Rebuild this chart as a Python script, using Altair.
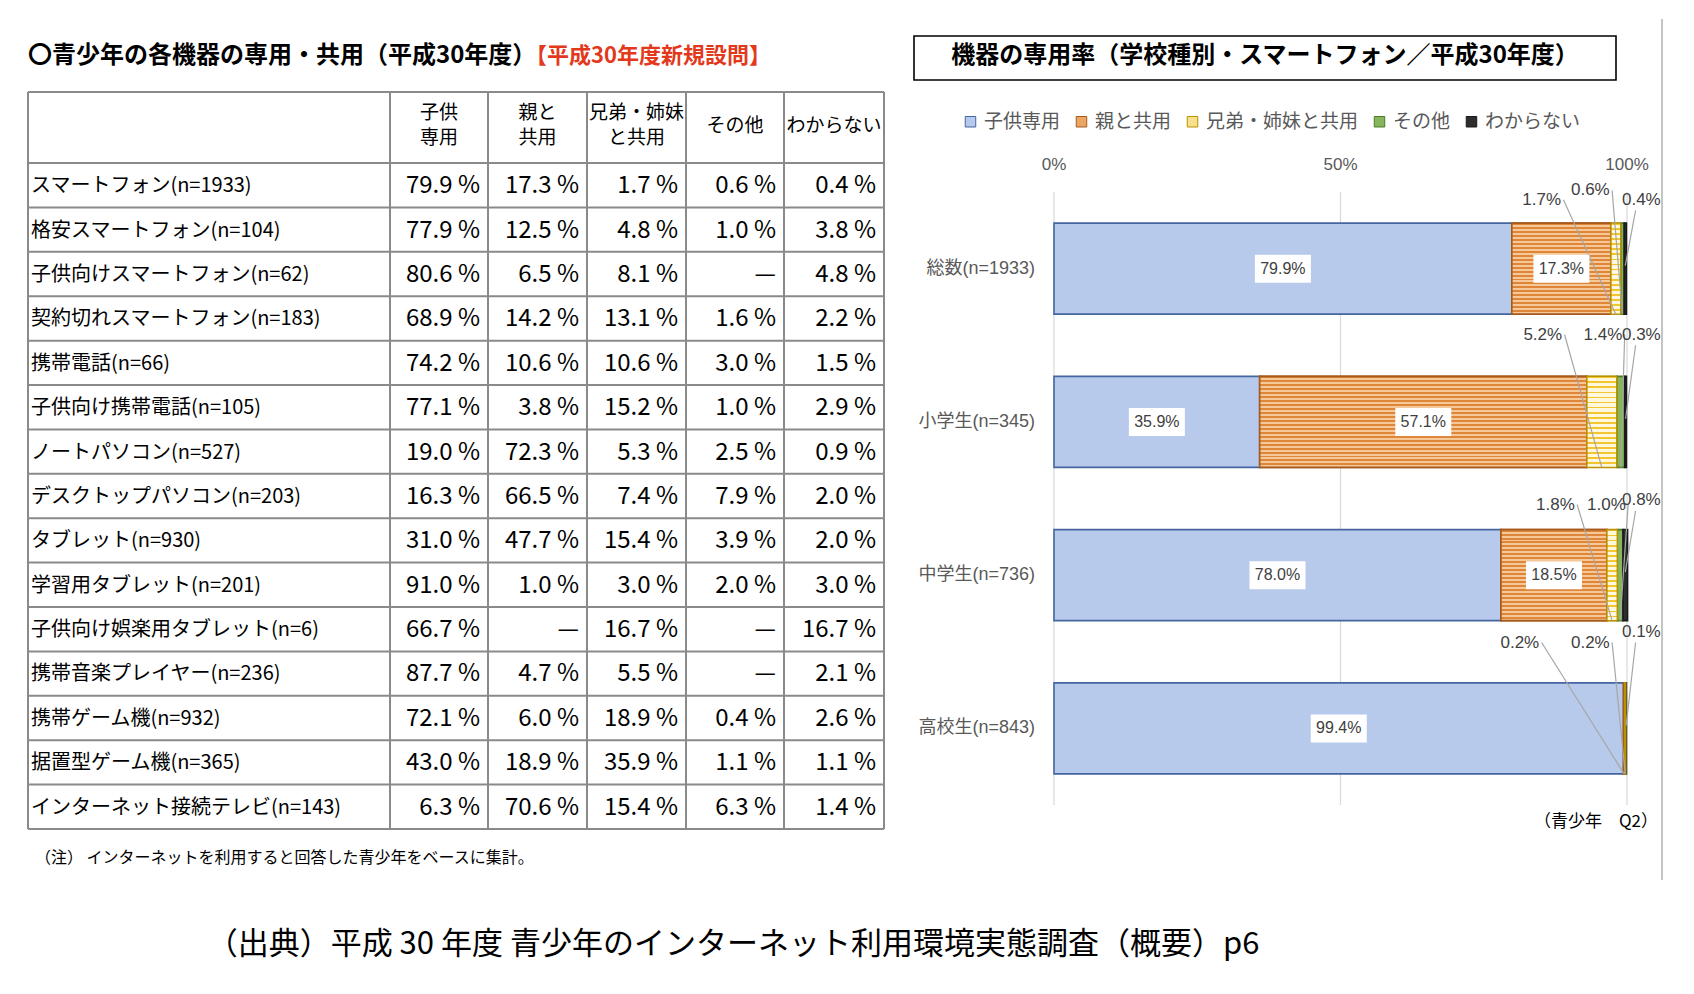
import altair as alt
import pandas as pd

# ---------------- data: left table ----------------
devices = [
    "スマートフォン(n=1933)", "格安スマートフォン(n=104)", "子供向けスマートフォン(n=62)",
    "契約切れスマートフォン(n=183)", "携帯電話(n=66)", "子供向け携帯電話(n=105)",
    "ノートパソコン(n=527)", "デスクトップパソコン(n=203)", "タブレット(n=930)",
    "学習用タブレット(n=201)", "子供向け娯楽用タブレット(n=6)", "携帯音楽プレイヤー(n=236)",
    "携帯ゲーム機(n=932)", "据置型ゲーム機(n=365)", "インターネット接続テレビ(n=143)",
]
tbl_child = [79.9, 77.9, 80.6, 68.9, 74.2, 77.1, 19.0, 16.3, 31.0, 91.0, 66.7, 87.7, 72.1, 43.0, 6.3]
tbl_parent = [17.3, 12.5, 6.5, 14.2, 10.6, 3.8, 72.3, 66.5, 47.7, 1.0, None, 4.7, 6.0, 18.9, 70.6]
tbl_sibling = [1.7, 4.8, 8.1, 13.1, 10.6, 15.2, 5.3, 7.4, 15.4, 3.0, 16.7, 5.5, 18.9, 35.9, 15.4]
tbl_other = [0.6, 1.0, None, 1.6, 3.0, 1.0, 2.5, 7.9, 3.9, 2.0, None, None, 0.4, 1.1, 6.3]
tbl_unknown = [0.4, 3.8, 4.8, 2.2, 1.5, 2.9, 0.9, 2.0, 2.0, 3.0, 16.7, 2.1, 2.6, 1.1, 1.4]
tbl_headers = ["子供\n専用", "親と\n共用", "兄弟・姉妹\nと共用", "その他", "わからない"]

# ---------------- data: right chart ----------------
categories = ["子供専用", "親と共用", "兄弟・姉妹と共用", "その他", "わからない"]
schools = ["総数(n=1933)", "小学生(n=345)", "中学生(n=736)", "高校生(n=843)"]
sp_child = [79.9, 35.9, 78.0, 99.4]
sp_parent = [17.3, 57.1, 18.5, 0.2]
sp_sibling = [1.7, 5.2, 1.8, 0.2]
sp_other = [0.6, 1.4, 1.0, 0.0]
sp_unknown = [0.4, 0.3, 0.8, 0.1]
axis_ticks = [0, 50, 100]
axis_tick_labels = ["0%", "50%", "100%"]

# ---------------- layout / style ----------------
FONT_JP = "Noto Sans CJK JP"
FONT_NUM = "Liberation Sans Narrow, Noto Sans CJK JP"
FONT_CHART = "Liberation Sans Narrow, Liberation Sans, Noto Sans CJK JP"
GRAY_TXT = "#595959"

col_edges = [0, 362, 460, 559, 658, 756, 856]
HEADER_H = 1.6
n_rows = len(devices)
tbl_total = HEADER_H + n_rows
tx = alt.Scale(domain=[0, 856], range=[20, 876], nice=False, zero=False)
ty = alt.Scale(domain=[0, tbl_total], range=[84, 821], nice=False, zero=False)

bx = alt.Scale(domain=[0, 100], range=[1046, 1619], nice=False, zero=False)
by = alt.Scale(domain=[-0.5, 3.5], range=[184, 797], nice=False, zero=False)
HALF_BAR = 0.297

fills = ["#b8caec", "#eba565", "#f8e08c", "#86b55c", "#2e2e2e"]
strokes = ["#44659f", "#a65a1c", "#b89200", "#4e7a2a", "#1a1a1a"]

# label slot layout for the small segments (x in %, y in row units)
small_slots = {
    0: [("兄弟・姉妹と共用", 85.1, -0.45), ("その他", 93.6, -0.51), ("わからない", 102.5, -0.45)],
    1: [("兄弟・姉妹と共用", 85.3, 0.43), ("その他", 95.8, 0.43), ("わからない", 102.5, 0.43)],
    2: [("兄弟・姉妹と共用", 87.5, 1.54), ("その他", 96.4, 1.54), ("わからない", 102.5, 1.51)],
    3: [("親と共用", 81.3, 2.44), ("兄弟・姉妹と共用", 93.6, 2.44), ("わからない", 102.5, 2.37)],
}

# ================= left table =================
v_lines = pd.DataFrame({"x": col_edges, "y0": 0.0, "y1": tbl_total})
h_pos = [0.0, HEADER_H] + [HEADER_H + r + 1 for r in range(n_rows)]
h_lines = pd.DataFrame({"y": h_pos, "x0": 0, "x1": col_edges[-1]})

tbl_cols = [tbl_child, tbl_parent, tbl_sibling, tbl_other, tbl_unknown]
cell_rows = []
for c, vals in enumerate(tbl_cols):
    for r, v in enumerate(vals):
        cell_rows.append({
            "x": col_edges[c + 2] - 8,
            "y": HEADER_H + r + 0.52,
            "t": "—" if v is None else f"{v:.1f} %",
        })
cells = pd.DataFrame(cell_rows)
row_labels = pd.DataFrame({"x": 3, "y": [HEADER_H + r + 0.52 for r in range(n_rows)], "t": devices})
headers = pd.DataFrame({
    "x": [(col_edges[i + 1] + col_edges[i + 2]) / 2 for i in range(5)],
    "y": [0.47 if "\n" in h else 0.77 for h in tbl_headers],
    "t": tbl_headers,
})

t_v = alt.Chart(v_lines).mark_rule(color="#8a8a8a", strokeWidth=2).encode(
    x=alt.X("x:Q", scale=tx, axis=None), y=alt.Y("y0:Q", scale=ty, axis=None), y2="y1:Q")
t_h = alt.Chart(h_lines).mark_rule(color="#8a8a8a", strokeWidth=2).encode(
    x=alt.X("x0:Q", scale=tx, axis=None), x2="x1:Q", y=alt.Y("y:Q", scale=ty, axis=None))
t_cells = alt.Chart(cells).mark_text(align="right", baseline="middle", font=FONT_NUM,
                                     fontSize=24, color="#000").encode(
    x=alt.X("x:Q", scale=tx, axis=None), y=alt.Y("y:Q", scale=ty, axis=None), text="t:N")
t_rows = alt.Chart(row_labels).mark_text(align="left", baseline="middle", font=FONT_NUM,
                                         fontSize=20, color="#000").encode(
    x=alt.X("x:Q", scale=tx, axis=None), y=alt.Y("y:Q", scale=ty, axis=None), text="t:N")
t_head = alt.Chart(headers).mark_text(align="center", baseline="middle", font=FONT_JP,
                                      fontSize=19, lineBreak="\n", lineHeight=25, color="#000").encode(
    x=alt.X("x:Q", scale=tx, axis=None), y=alt.Y("y:Q", scale=ty, axis=None), text="t:N")
table = alt.layer(t_v, t_h, t_cells, t_rows, t_head)

# ================= right chart =================
seg_vals = [sp_child, sp_parent, sp_sibling, sp_other, sp_unknown]
seg_rows = []
for i, s in enumerate(schools):
    start = 0.0
    for c, cat in enumerate(categories):
        v = seg_vals[c][i]
        if v > 0:
            seg_rows.append({"school": s, "idx": i, "cat": cat, "v": v,
                             "x0": start, "x1": start + v, "xm": start + v / 2,
                             "y0": i - HALF_BAR, "y1": i + HALF_BAR,
                             "lab": f"{v:.1f}%"})
        start += v
segs = pd.DataFrame(seg_rows)
inside = segs[segs["v"] >= 10].copy()

small_rows = []
for i, slots in small_slots.items():
    for slot_no, (cat, lx, ly) in enumerate(slots):
        seg = segs[(segs["idx"] == i) & (segs["cat"] == cat)].iloc[0]
        if slot_no < 2:
            sx, sy, ey = lx + 3.8, ly, i + HALF_BAR
        else:
            sx, sy, ey = lx - 1.0, ly + 0.07, i - 0.02
        small_rows.append({"lx": lx, "ly": ly, "lab": seg["lab"], "sx": sx, "sy": sy,
                           "ex": seg["xm"], "ey": ey})
small = pd.DataFrame(small_rows)

grid = pd.DataFrame({"p": axis_ticks, "lab": axis_tick_labels, "y0": -0.5, "y1": 3.5})
cat_labels = pd.DataFrame({"idx": list(range(len(schools))), "t": schools})


def stripes(dark, light, n=23, frac=0.5):
    stops = []
    p = 1.0 / n
    for k in range(n):
        a, b, c = k * p, k * p + frac * p, (k + 1) * p
        stops += [alt.GradientStop(color=dark, offset=a), alt.GradientStop(color=dark, offset=b),
                  alt.GradientStop(color=light, offset=b), alt.GradientStop(color=light, offset=min(c, 1.0))]
    return alt.LinearGradient(gradient="linear", stops=stops, x1=0, x2=0, y1=0, y2=1)


r_grid = alt.Chart(grid).mark_rule(color="#d9d9d9", strokeWidth=1.2).encode(
    x=alt.X("p:Q", scale=bx, axis=None), y=alt.Y("y0:Q", scale=by, axis=None), y2="y1:Q")
r_ticks = alt.Chart(grid).mark_text(align="center", baseline="middle", font=FONT_CHART,
                                    fontSize=17, color=GRAY_TXT).encode(
    x=alt.X("p:Q", scale=bx, axis=None), y=alt.value(157), text="lab:N")
r_cats = alt.Chart(cat_labels).mark_text(align="right", baseline="middle", font=FONT_CHART,
                                         fontSize=18, color=GRAY_TXT).encode(
    x=alt.value(1027), y=alt.Y("idx:Q", scale=by, axis=None), text="t:N")

r_bars = alt.Chart(segs).mark_rect(strokeWidth=1.6).encode(
    x=alt.X("x0:Q", scale=bx, axis=None), x2="x1:Q",
    y=alt.Y("y0:Q", scale=by, axis=None), y2="y1:Q",
    color=alt.Color("cat:N", scale=alt.Scale(domain=categories, range=fills),
                    legend=alt.Legend(title=None, orient="none", legendX=953, legendY=104,
                                      direction="horizontal", symbolType="square", symbolSize=110,
                                      labelFont=FONT_JP, labelFontSize=19, labelColor=GRAY_TXT,
                                      columnPadding=11, labelOffset=4, padding=0,
                                      symbolStrokeWidth=1, symbolStrokeColor="#555")),
    stroke=alt.Stroke("cat:N", scale=alt.Scale(domain=categories, range=strokes), legend=None),
)
r_orange = alt.Chart(segs).transform_filter(alt.datum.cat == "親と共用").mark_rect(
    fill=stripes("#de863a", "#f6c797"), stroke=strokes[1], strokeWidth=1.6).encode(
    x=alt.X("x0:Q", scale=bx, axis=None), x2="x1:Q",
    y=alt.Y("y0:Q", scale=by, axis=None), y2="y1:Q")
r_yellow = alt.Chart(segs).transform_filter(alt.datum.cat == "兄弟・姉妹と共用").mark_rect(
    fill=stripes("#f2c531", "#fff8dc", n=18, frac=0.35), stroke=strokes[2], strokeWidth=1.4).encode(
    x=alt.X("x0:Q", scale=bx, axis=None), x2="x1:Q",
    y=alt.Y("y0:Q", scale=by, axis=None), y2="y1:Q")

r_box = alt.Chart(inside).mark_point(shape="M-1,-0.5L1,-0.5L1,0.5L-1,0.5Z", size=3136,
                                     filled=True, fill="white", opacity=1, strokeWidth=0).encode(
    x=alt.X("xm:Q", scale=bx, axis=None), y=alt.Y("idx:Q", scale=by, axis=None))
r_in_txt = alt.Chart(inside).mark_text(align="center", baseline="middle", font=FONT_CHART,
                                       fontSize=16, color="#404040").encode(
    x=alt.X("xm:Q", scale=bx, axis=None), y=alt.Y("idx:Q", scale=by, axis=None), text="lab:N")

r_leader = alt.Chart(small).mark_rule(color="#a6a6a6", strokeWidth=1.2).encode(
    x=alt.X("sx:Q", scale=bx, axis=None), x2="ex:Q",
    y=alt.Y("sy:Q", scale=by, axis=None), y2="ey:Q")
r_small = alt.Chart(small).mark_text(align="center", baseline="middle", font=FONT_CHART,
                                     fontSize=17, color="#404040").encode(
    x=alt.X("lx:Q", scale=bx, axis=None), y=alt.Y("ly:Q", scale=by, axis=None), text="lab:N")

right = alt.layer(r_grid, r_ticks, r_cats, r_bars, r_orange, r_yellow, r_leader,
                  r_box, r_in_txt, r_small)

# ================= annotations =================
def note(text, x, y, **kw):
    return alt.Chart(pd.DataFrame({"t": [text]})).mark_text(baseline="middle", **kw).encode(
        x=alt.value(x), y=alt.value(y), text="t:N")


title_l = note("〇青少年の各機器の専用・共用（平成30年度）", 20, 48, align="left",
               font=FONT_JP, fontSize=24, fontWeight="bold", color="#000")
title_red = note("【平成30年度新規設問】", 517, 48, align="left",
                 font=FONT_JP, fontSize=22, fontWeight="bold", color="#e2391d")
note_l = note("（注）  インターネットを利用すると回答した青少年をベースに集計。", 27, 850,
              align="left", font=FONT_JP, fontSize=16, color="#000")
source = note("（出典）平成 30 年度  青少年のインターネット利用環境実態調査（概要）p6", 725, 937,
              align="center", font=FONT_JP, fontSize=31, color="#000")
title_r = note("機器の専用率（学校種別・スマートフォン／平成30年度）", 1257, 48, align="center",
               font=FONT_JP, fontSize=24, fontWeight="bold", color="#000")
q2 = note("（青少年　Q2）", 1650, 814, align="right", font=FONT_JP, fontSize=17, color="#000")

one = pd.DataFrame({"k": [1]})
title_box = alt.Chart(one).mark_rect(fillOpacity=0, stroke="#000", strokeWidth=1.6).encode(
    x=alt.value(906), x2=alt.value(1608), y=alt.value(28), y2=alt.value(72))
edge_line = alt.Chart(one).mark_rule(color="#b0b0b0", strokeWidth=1.5).encode(
    x=alt.value(1654), y=alt.value(11), y2=alt.value(872))

annotations = alt.layer(title_l, title_red, note_l, source, title_r, q2, title_box, edge_line)

chart = alt.layer(table, right, annotations).resolve_scale(
    x="independent", y="independent", color="independent", stroke="independent"
).properties(
    width=1678, height=978, autosize=alt.AutoSizeParams(type="none"), padding=0,
    background="white",
).configure_view(stroke=None)

chart.save("out.html", embed_options={"renderer": "svg", "actions": False})
